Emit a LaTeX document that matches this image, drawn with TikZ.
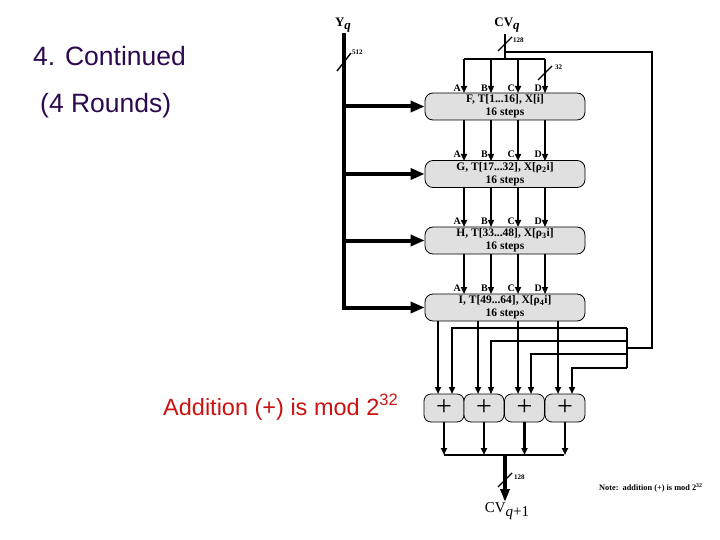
\documentclass[tikz,border=0pt]{standalone}
\usepackage{fontspec}
\setmainfont{Liberation Serif}
\newfontfamily\arialf{Liberation Sans}
\usetikzlibrary{arrows.meta,calc}
\definecolor{titlecol}{HTML}{2D0A4E}
\definecolor{redcol}{HTML}{CC1111}
\definecolor{boxgray}{HTML}{E0E0E0}
\begin{document}
\begin{tikzpicture}[x=1pt,y=-1pt,
 rbox/.style={draw, line width=0.8pt, fill=boxgray, rounded corners=8pt, minimum width=160pt, minimum height=27pt, inner sep=0pt, align=center, font=\fontsize{11.5}{13}\selectfont\bfseries},
 abox/.style={draw, line width=0.8pt, fill=boxgray, rounded corners=7pt, minimum width=40pt, minimum height=28pt, inner sep=0pt, font=\fontsize{28}{28}\selectfont},
 thk/.style={line width=2.4pt},
 thn/.style={line width=1.2pt},
 fat/.style={line width=4pt},
 sarr/.style={-{Triangle[length=7pt,width=6pt]}},
 barr/.style={-{Triangle[length=14pt,width=11pt]}},
 lbl/.style={font=\fontsize{10}{10}\selectfont\bfseries, inner sep=0pt},
 tinyl/.style={font=\fontsize{7}{7}\selectfont\bfseries, inner sep=0pt, anchor=west},
 slash/.style={line width=1.4pt},
 ttl/.style={font=\arialf\fontsize{26.5}{30}\selectfont, text=titlecol, inner sep=0pt, anchor=base west},
]
\useasboundingbox (0,0) rectangle (720,540);

% titles
\node[ttl] (t1) at (33,66) {4. Continued};
\node[ttl] (t2) at (40,113) {(4 Rounds)};
\node[font=\arialf\fontsize{23.5}{26}\selectfont, text=redcol, inner sep=0pt, anchor=base west] (t3) at (163,415) {Addition (+) is mod 2\textsuperscript{32}};

% round boxes
\node[rbox] (b1) at (505,106.5) {F, T[1...16], X[i]\\16 steps};
\node[rbox] (b2) at (505,174) {G, T[17...32], X[ρ\textsubscript{2}i]\\16 steps};
\node[rbox] (b3) at (505,240.5) {H, T[33...48], X[ρ\textsubscript{3}i]\\16 steps};
\node[rbox] (b4) at (505,307.5) {I, T[49...64], X[ρ\textsubscript{4}i]\\16 steps};

% Yq input
\node[font=\fontsize{13}{13}\selectfont\bfseries, inner sep=0pt] (yq) at (343,25) {Y\raisebox{-3pt}{\itshape q}};
\coordinate (ytop) at (344,33);
\draw[fat, barr] (ytop) |- (b4.west);
\foreach \b in {b1,b2,b3} \draw[fat, barr] (ytop |- \b.west) -- (\b.west);
\coordinate (ys) at (344,62);
\draw[slash] ($(ys)+(-7,9)$) -- ($(ys)+(7,-9)$);
\node[tinyl] (l512) at (352,52) {512};

% CVq input
\node[font=\fontsize{13}{13}\selectfont\bfseries, inner sep=0pt] (cvq) at (507,25) {CV\raisebox{-3pt}{\itshape q}};
\coordinate (cvtop) at (505,34);
\coordinate (busL) at (464,59);
\coordinate (busR) at (545,59);
\draw[thk] (cvtop) -- (505,59);
\draw[thk] (busL) -- (busR);
\draw[slash] (498,51) -- (512,37);
\node[tinyl] (l128a) at (513,40) {128};
% feedback line
\coordinate (fbA) at (505,52);
\coordinate (fbB) at (652,52);
\coordinate (fbC) at (652,348);
\coordinate (fbD) at (627,348);
\draw[thk] (fbA) -- (fbB) -- (fbC) -- (fbD);

% A B C D into box 1
\foreach \x/\s in {464/thk,491/thn,518/thk,545/thn}{
  \draw[\s, sarr] (\x,59) -- (\x,93);
}
\draw[slash] (538,80) -- (552,66);
\node[tinyl] (l32) at (555,67) {32};

% between boxes
\foreach \ya/\yb in {120/161,187/227,254/294}{
  \foreach \x/\s in {464/thk,491/thn,518/thk,545/thn}{
    \draw[\s, sarr] (\x,\ya) -- (\x,\yb);
  }
}
% labels A-D
\foreach \yy in {88,154,221,288}{
  \foreach \x/\n in {464/A,491/B,518/C,545/D}{
    \node[lbl, anchor=east] at (\x-3,\yy) {\n};
  }
}

% adders
\node[abox] (a1) at (444,408) {+};
\node[abox] (a2) at (484,408) {+};
\node[abox] (a3) at (524.5,408) {+};
\node[abox] (a4) at (565,408) {+};

% box4 to adders
\foreach \x in {438,478,518,558}{
  \draw[thk, sarr] (\x,321) -- (\x,394);
}
% feedback distribution
\draw[thk] (627,328) -- (627,368);
\draw[thk, sarr] (627,328) -- (452,328) -- (452,394);
\draw[thn, sarr] (627,341) -- (491,341) -- (491,394);
\draw[thk, sarr] (627,354) -- (531,354) -- (531,394);
\draw[thk, sarr] (627,368) -- (572,368) -- (572,394);

% adder outputs
\coordinate (outL) at (444,455);
\coordinate (outR) at (564,455);
\foreach \a in {a1,a2,a3,a4}{
  \draw[thk, sarr] (\a.south) -- (\a.south |- outL);
}
\draw[thn] (outL) -- (outR);
\node[font=\fontsize{15}{15}\selectfont, inner sep=0pt] (cvout) at (507,511) {CV\raisebox{-4pt}{\itshape q\upshape+1}};
\coordinate (cvin) at (505,502);
\draw[fat, -{Triangle[length=13pt,width=9pt]}] (505,455) -- (cvin);
\draw[slash] (498,487) -- (512,473);
\node[tinyl] (l128b) at (514,477) {128};

% note
\node[font=\fontsize{8.3}{9}\selectfont\bfseries, inner sep=0pt, anchor=west] (note) at (599,488) {Note:\ \ addition (+) is mod 2\textsuperscript{32}};
\end{tikzpicture}
\end{document}
